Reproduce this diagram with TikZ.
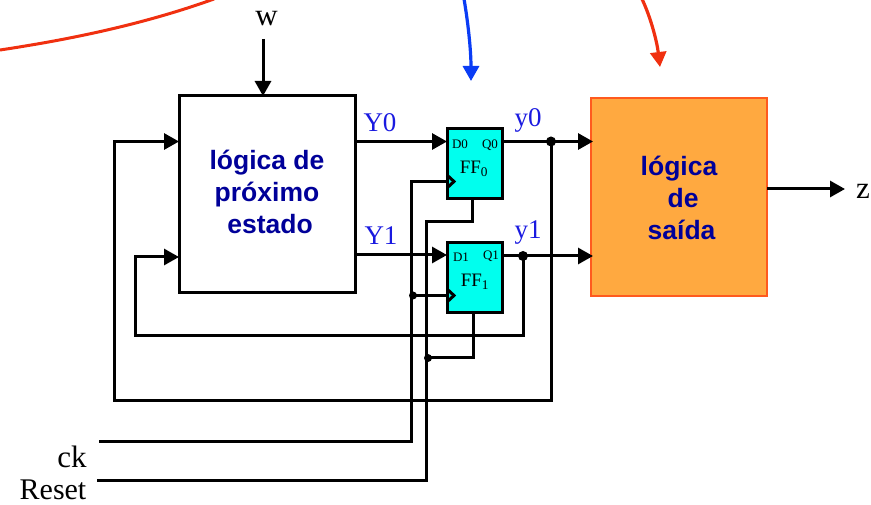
\documentclass[tikz,border=0pt]{standalone}
\usepackage{fontspec}
\setmainfont{Liberation Serif}
\newfontfamily\boxfont{Liberation Sans}
\usetikzlibrary{arrows.meta}
\definecolor{navytxt}{HTML}{000099}
\definecolor{bluetxt}{HTML}{1A1AE0}
\definecolor{cyanff}{HTML}{00FFEE}
\definecolor{orangefill}{HTML}{FFA940}
\definecolor{orangeline}{HTML}{FF5A1E}
\definecolor{redline}{HTML}{F03010}
\definecolor{blueline}{HTML}{0A3CF5}
\tikzset{
  x=1pt,y=-1pt,
  wire/.style={line width=3pt,black,line join=miter},
  arrowwire/.style={wire,-{Triangle[length=15pt,width=16pt]}},
  curvearrow/.style={line width=3.2pt,-{Triangle[length=15pt,width=16pt]}},
  logicbox/.style={draw=black,line width=3pt,fill=white,minimum width=176pt,minimum height=197pt,inner sep=0pt},
  outbox/.style={draw=orangeline,line width=2.6pt,fill=orangefill,minimum width=176pt,minimum height=198pt,inner sep=0pt},
  ffbox/.style={draw=black,line width=3pt,fill=cyanff,minimum width=55pt,minimum height=70pt,inner sep=0pt},
  boxtext/.style={font=\boxfont\bfseries\fontsize{26.5}{32}\selectfont,text=navytxt,align=center,inner sep=0pt},
  bluelabel/.style={font=\fontsize{27}{27}\selectfont,text=bluetxt,inner sep=0pt},
  blacklabel/.style={font=\fontsize{31}{31}\selectfont,text=black,inner sep=0pt},
  pinlabel/.style={font=\fontsize{13}{13}\selectfont,text=black,inner sep=0pt},
  fflabel/.style={font=\fontsize{19}{19}\selectfont,text=black,inner sep=0pt},
  dotnode/.style={circle,fill=black,minimum size=10pt,inner sep=0pt},
}
\begin{document}
\begin{tikzpicture}
\useasboundingbox (0,0) rectangle (871,505);
% boxes
\node[logicbox] (npl) at (267,194.5) {};
\node[outbox] (ol) at (679,197) {};
\node[ffbox] (ff0) at (474.5,164) {};
\node[ffbox] (ff1) at (474.5,277.5) {};
% box texts
\node[boxtext] (npltxt) at (267,192) {lógica de\\próximo\\\hspace*{6pt}estado};
\node[boxtext,align=left] (oltxt) at (679,198) {lógica\\\hspace*{27pt}de\\\hspace*{7pt}saída};
\node[pinlabel] (d0) at (460,144) {D0};
\node[pinlabel] (q0) at (490,145) {Q0};
\node[pinlabel] (d1) at (461,257) {D1};
\node[pinlabel] (q1) at (491,256) {Q1};
\node[fflabel] (ff0t) at (474,169) {FF\textsubscript{0}};
\node[fflabel] (ff1t) at (475,282) {FF\textsubscript{1}};
% clock triangles
\coordinate (c0) at (447,181.5);
\coordinate (c1) at (447,295.5);
\draw[wire] (447,175) -- (454,181.5) -- (447,188);
\draw[wire] (447,289) -- (454,295.5) -- (447,302);
% coordinates
\coordinate (w0) at (263,39);
\coordinate (wbox) at (263,96);
\coordinate (y0j) at (551,141.5);
\coordinate (y1j) at (523,256);
\coordinate (ckl) at (99,441);
\coordinate (rsl) at (97,480);
\coordinate (ckj) at (413,295.5);
\coordinate (rsj) at (428,358);
\coordinate (zend) at (845,189);
% wires
\draw[arrowwire] (w0) -- (wbox);
\draw[arrowwire] (355,141.5) -- (447,141.5);
\draw[arrowwire] (355,255) -- (447,255);
\draw[arrowwire] (502,141.5) -- (593,141.5);
\draw[arrowwire] (502,256) -- (593,256);
\draw[arrowwire] (767,189) -- (zend);
\draw[arrowwire] (y0j) -- (551,400) -- (114,400) -- (114,141.5) -- (179,141.5);
\draw[arrowwire] (y1j) -- (523,336) -- (135,336) -- (135,257) -- (179,257);
\draw[wire] (ckl) -- (411,441) -- (411,181.5) -- (c0);
\draw[wire] (ckj) -- (c1);
\draw[wire] (rsl) -- (426.5,480) -- (426.5,222) -- (472.5,222) -- (472.5,199);
\draw[wire] (rsj) -- (473.5,358) -- (473.5,312);
% junctions
\node[dotnode] (dy0) at (y0j) {};
\node[dotnode] (dy1) at (y1j) {};
\node[dotnode,minimum size=8pt] (dck) at (ckj) {};
\node[dotnode,minimum size=8pt] (drs) at (rsj) {};
% labels
\node[bluelabel] (Y0) at (380,122.5) {Y0};
\node[bluelabel] (Y1) at (381,235.5) {Y1};
\node[bluelabel] (y0) at (528,120) {y0};
\node[bluelabel] (y1) at (528,233) {y1};
\node[blacklabel] (w) at (266.5,19) {w};
\node[blacklabel] (z) at (863,191) {z};
\node[blacklabel] (ck) at (72,457) {ck};
\node[blacklabel,font=\fontsize{30}{30}\selectfont] (reset) at (53,489.5) {Reset};
% curves
\draw[line width=3pt,redline] (0,50) .. controls (80,38) and (150,22) .. (214,-1);
\draw[curvearrow,blueline] (464,-1) .. controls (468,22) and (471,50) .. (471,81);
\draw[curvearrow,redline] (642,-1) .. controls (651,18) and (657,42) .. (660,67);
\end{tikzpicture}
\end{document}
